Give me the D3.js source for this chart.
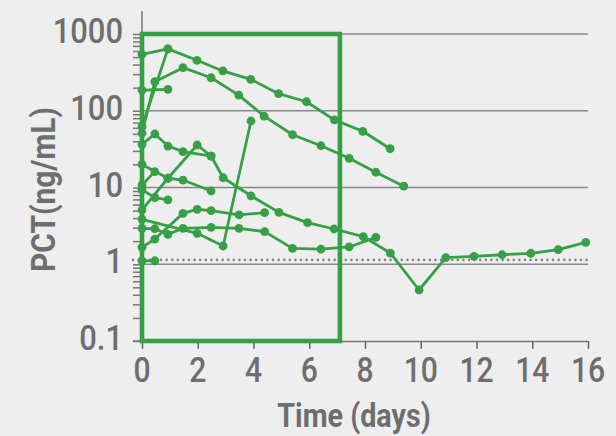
<!DOCTYPE html>
<html>
<head>
<meta charset="utf-8">
<script src="https://cdn.jsdelivr.net/npm/d3@7"></script>
<style>
    body { margin: 0; background: #eeeeee; }
    svg text { font-family: Roboto, "Liberation Sans", Arial, sans-serif; fill: #6e6e6e; }
</style>
</head>
<body>
<div id="chart"></div>
<script>
// PCT (ng/mL) per patient, [day, value]
const patientA  = [[0, 544], [0.93, 640], [1.97, 454], [2.9, 330], [3.9, 257], [4.9, 167], [5.9, 131], [6.9, 76], [7.92, 54], [8.9, 32]];
const patientA2 = [[0, 62], [0.93, 640]];
const patientB  = [[0, 51], [0.46, 239], [1.47, 364], [2.48, 269], [3.47, 160], [4.38, 85], [5.4, 48.7], [6.42, 35], [7.43, 24], [8.39, 15.8], [9.39, 10.4]];
const patientC  = [[0, 186], [0.93, 190]];
const patientE  = [[0, 36.5], [0.46, 49.8], [0.93, 34.7], [1.47, 29.3], [2.48, 25.7]];
const patientL  = [[0, 5.1], [0.93, 13.2], [1.98, 35.8], [2.48, 25.7], [2.91, 13.4], [3.91, 7.8], [4.91, 4.75], [5.94, 3.48], [6.89, 2.88], [7.94, 2.29], [8.91, 1.40], [9.94, 0.462], [10.9, 1.22], [11.91, 1.27], [12.92, 1.33], [13.95, 1.39], [14.93, 1.55], [15.92, 1.93]];
const patientJ  = [[0, 20], [0.93, 13.2], [1.47, 12.5], [2.48, 9.0]];
const patientH  = [[0, 10.8], [0.46, 16.1]];
const patientK  = [[0, 9.3], [0.46, 7.4], [0.93, 6.9]];
const patientG  = [[0, 3.85], [1.98, 2.53], [2.91, 1.73], [3.91, 73.5]];
const patientM  = [[0, 1.66], [0.46, 2.13], [1.47, 4.6], [1.98, 5.2], [2.48, 5.0], [3.48, 4.4], [4.4, 4.7]];
const patientF  = [[0, 2.94], [0.46, 2.9], [0.93, 2.45], [1.47, 2.94], [2.48, 3.03], [3.48, 2.94], [4.4, 2.66], [5.4, 1.61], [6.42, 1.57], [7.43, 1.68], [8.39, 2.24]];
const patientQ  = [[0, 1.11], [0.46, 1.11]];
const patients = [patientA, patientA2, patientB, patientC, patientE, patientL, patientJ, patientH, patientK, patientG, patientM, patientF, patientQ];

const xTicks = [0, 2, 4, 6, 8, 10, 12, 14, 16];
const yMajor = [0.1, 1, 10, 100, 1000];
const yLabels = ["0.1", "1", "10", "100", "1000"];
const cutoff = 1.14;          // dotted reference line
const boxDays = [0, 7.1];     // highlighted window
const boxRange = [0.1, 1000];

const WIDTH = 616, HEIGHT = 436;
const MARGINS = { top: 34, right: 28, bottom: 95, left: 142 };
const GREEN = "#37a047";
const NARROW = 0.86;   // squeeze text to mimic a condensed face

const x = d3.scaleLinear().domain([0, 16]).range([MARGINS.left, WIDTH - MARGINS.right]);
const y = d3.scaleLog().domain([0.1, 1000]).range([HEIGHT - MARGINS.bottom, MARGINS.top]);

const svg = d3.select("#chart").append("svg")
    .attr("width", WIDTH)
    .attr("height", HEIGHT)
    .style("background", "#eeeeee");

// horizontal grid lines at each decade
svg.append("g")
    .selectAll("line")
    .data(yMajor.slice(1))
    .join("line")
    .attr("x1", x(0)).attr("x2", x(16))
    .attr("y1", d => y(d)).attr("y2", d => y(d))
    .style("stroke", "#888").style("stroke-width", 1.5);

// dotted reference line
svg.append("line")
    .attr("x1", x(0) - 9).attr("x2", x(16))
    .attr("y1", y(cutoff)).attr("y2", y(cutoff))
    .style("stroke", "#888").style("stroke-width", 2.6)
    .style("stroke-linecap", "round")
    .style("stroke-dasharray", "0,5.6");

// y-axis with minor log ticks
const yTickVals = [];
yMajor.slice(0, -1).forEach(d => { for (let k = 1; k < 10; k++) yTickVals.push(d * k); });
yTickVals.push(1000);
const yAxis = svg.append("g")
    .attr("transform", `translate(${MARGINS.left},0)`)
    .call(d3.axisLeft(y).tickValues(yTickVals).tickSize(9).tickSizeOuter(0).tickFormat(""));
yAxis.select(".domain").remove();
yAxis.selectAll(".tick line").style("stroke", "#777").style("stroke-width", 1.5);
svg.append("line")
    .attr("x1", MARGINS.left).attr("x2", MARGINS.left)
    .attr("y1", 11).attr("y2", y(0.1))
    .style("stroke", "#777").style("stroke-width", 1.5);
svg.append("g")
    .selectAll("text")
    .data(yMajor)
    .join("text")
    .attr("transform", d => `translate(${MARGINS.left - 19},${y(d) + 9}) scale(${NARROW},1)`)
    .attr("text-anchor", "end")
    .style("font-size", "36px").style("font-weight", 500)
    .text((d, i) => yLabels[i]);

// x-axis
const xAxis = svg.append("g")
    .attr("transform", `translate(0,${y(0.1)})`)
    .call(d3.axisBottom(x).tickValues(xTicks).tickSize(8).tickSizeOuter(0).tickFormat(""));
xAxis.select(".domain").style("stroke", "#777").style("stroke-width", 1.5);
xAxis.selectAll(".tick line").style("stroke", "#666").style("stroke-width", 1.5);
svg.append("line")
    .attr("x1", MARGINS.left - 9).attr("x2", MARGINS.left)
    .attr("y1", y(0.1)).attr("y2", y(0.1))
    .style("stroke", "#777").style("stroke-width", 1.5);
svg.append("g")
    .selectAll("text")
    .data(xTicks)
    .join("text")
    .attr("transform", d => `translate(${x(d)},382) scale(${NARROW},1)`)
    .attr("text-anchor", "middle")
    .style("font-size", "35px").style("font-weight", 500)
    .text(d => d);

// axis titles
svg.append("text")
    .attr("transform", "translate(354,427) scale(0.87,1)")
    .attr("text-anchor", "middle")
    .style("font-size", "33px").style("font-weight", "bold")
    .text("Time (days)");
svg.append("text")
    .attr("transform", `translate(55,${(y(1000) + y(0.1)) / 2 + 2}) rotate(-90) scale(0.88,1)`)
    .attr("text-anchor", "middle")
    .style("font-size", "34px").style("font-weight", "bold")
    .text("PCT(ng/mL)");

// patient lines
const line = d3.line().x(d => x(d[0])).y(d => y(d[1]));
const lines = svg.append("g");
patients.forEach(p => {
    lines.append("path")
        .datum(p)
        .attr("d", line)
        .style("fill", "none")
        .style("stroke", GREEN)
        .style("stroke-width", 2.8)
        .style("stroke-linejoin", "round");
});
patients.forEach(p => {
    lines.append("g")
        .selectAll("circle")
        .data(p)
        .join("circle")
        .attr("cx", d => x(d[0]))
        .attr("cy", d => y(d[1]))
        .attr("r", 4.4)
        .style("fill", GREEN);
});

// highlighted window
svg.append("rect")
    .attr("x", x(boxDays[0]))
    .attr("y", y(boxRange[1]))
    .attr("width", x(boxDays[1]) - x(boxDays[0]))
    .attr("height", y(boxRange[0]) - y(boxRange[1]))
    .style("fill", "none")
    .style("stroke", GREEN)
    .style("stroke-width", 4.6);
</script>
</body>
</html>
